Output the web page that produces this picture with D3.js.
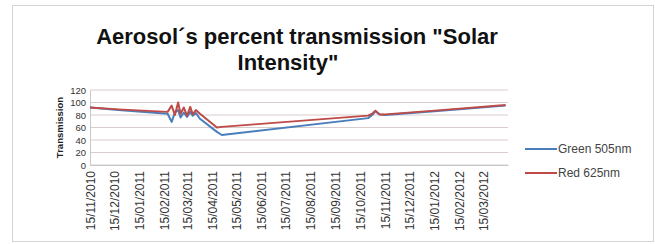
<!DOCTYPE html>
<html>
<head>
<meta charset="utf-8">
<script src="https://cdn.jsdelivr.net/npm/d3@7"></script>
<style>
  body { margin: 0; background: #fff; }
  svg { display: block; font-family: "Liberation Sans", Arial, sans-serif; }
</style>
</head>
<body>
<div id="chart"></div>
<script>
// Reading dates (dd/mm/yyyy) and the two transmission series
const dates = [
    "15/11/2010", "20/12/2010", "19/02/2011", "24/02/2011", "28/02/2011",
    "04/03/2011", "07/03/2011", "11/03/2011", "15/03/2011", "19/03/2011",
    "22/03/2011", "26/03/2011", "31/03/2011", "21/04/2011", "27/04/2011",
    "25/10/2011", "30/10/2011", "03/11/2011", "08/11/2011", "15/11/2011",
    "15/01/2012", "12/04/2012"
];
const green = [92, 88, 82, 69, 84, 88, 76, 84, 77, 85, 79, 83, 74, 53, 48,
               75, 80, 86, 81, 80, 86, 95];
const red = [92, 89, 85, 95, 80, 100, 82, 92, 79, 93, 81, 88, 82, 60, 61,
             79, 82, 87, 81, 81, 87, 96];

const tickLabels = [
    "15/11/2010", "15/12/2010", "15/01/2011", "15/02/2011", "15/03/2011",
    "15/04/2011", "15/05/2011", "15/06/2011", "15/07/2011", "15/08/2011",
    "15/09/2011", "15/10/2011", "15/11/2011", "15/12/2011", "15/01/2012",
    "15/02/2012", "15/03/2012"
];
const yTicks = [0, 20, 40, 60, 80, 100, 120];

const series = [
    { name: "Green 505nm", values: green, color: "#4a7ebb" },
    { name: "Red 625nm", values: red, color: "#be4b48" }
];

const parse = d3.timeParse("%d/%m/%Y");

const W = 655, H = 244;
const margin = { top: 90, right: 147, bottom: 79, left: 90 };
const width = W - margin.left - margin.right;
const height = H - margin.top - margin.bottom;

const svg = d3.select("#chart")
    .append("svg")
    .attr("width", W)
    .attr("height", H);

// chart frame
svg.append("rect")
    .attr("x", 12.5).attr("y", 5.5)
    .attr("width", 641).attr("height", 236)
    .attr("fill", "#fff")
    .attr("stroke", "#d4d4d4");

// title
const title = svg.append("text")
    .attr("text-anchor", "middle")
    .attr("font-weight", "bold")
    .attr("font-size", 22)
    .attr("fill", "#111");
title.append("tspan").attr("x", 297).attr("y", 44).text("Aerosol´s percent transmission \"Solar");
title.append("tspan").attr("x", 288).attr("y", 70).text("Intensity\"");

const g = svg.append("g")
    .attr("transform", "translate(" + margin.left + "," + margin.top + ")");

const x = d3.scaleTime()
    .domain([parse("15/11/2010"), parse("15/04/2012")])
    .range([0, width]);

const y = d3.scaleLinear()
    .domain([0, 120])
    .range([height, 0]);

// gridlines
g.append("g")
    .selectAll("line")
    .data(yTicks)
    .join("line")
    .attr("x1", 0).attr("x2", width)
    .attr("y1", d => y(d)).attr("y2", d => y(d))
    .attr("stroke", "#d9cccc")
    .attr("stroke-width", 1);

// y axis
const yAxis = g.append("g")
    .call(d3.axisLeft(y).tickValues(yTicks).tickSize(0).tickPadding(4));
yAxis.select(".domain").attr("stroke", "#c8c8c8");
yAxis.selectAll("text")
    .attr("font-size", 9.5)
    .attr("fill", "#333");

// x axis
const xAxis = g.append("g")
    .attr("transform", "translate(0," + height + ")")
    .call(d3.axisBottom(x)
        .tickValues(tickLabels.map(parse))
        .tickFormat(d3.timeFormat("%d/%m/%Y"))
        .tickSize(0));
xAxis.select(".domain").attr("stroke", "#c8c8c8");
xAxis.selectAll("text")
    .attr("font-size", 12)
    .attr("fill", "#333")
    .attr("text-anchor", "end")
    .attr("dy", "0.35em")
    .attr("transform", "translate(0,6) rotate(-90)")
    .attr("x", 0).attr("y", 0);

// y axis title
svg.append("text")
    .attr("transform", "translate(63," + (margin.top + height / 2) + ") rotate(-90)")
    .attr("text-anchor", "middle")
    .attr("font-weight", "bold")
    .attr("font-size", 9.5)
    .attr("fill", "#222")
    .text("Transmission");

// lines
const line = d3.line()
    .x((d, i) => x(parse(dates[i])))
    .y(d => y(d));

g.selectAll(".series")
    .data(series)
    .join("path")
    .attr("class", "series")
    .attr("d", d => line(d.values))
    .attr("fill", "none")
    .attr("stroke", d => d.color)
    .attr("stroke-width", 2)
    .attr("stroke-linejoin", "round");

// legend
const legend = svg.append("g")
    .selectAll("g")
    .data(series)
    .join("g")
    .attr("transform", (d, i) => "translate(525," + (149 + i * 24) + ")");
legend.append("line")
    .attr("x1", 0).attr("x2", 32)
    .attr("stroke", d => d.color)
    .attr("stroke-width", 2);
legend.append("text")
    .attr("x", 33).attr("dy", "0.35em")
    .attr("font-size", 12)
    .attr("fill", "#444")
    .text(d => d.name);
</script>
</body>
</html>
